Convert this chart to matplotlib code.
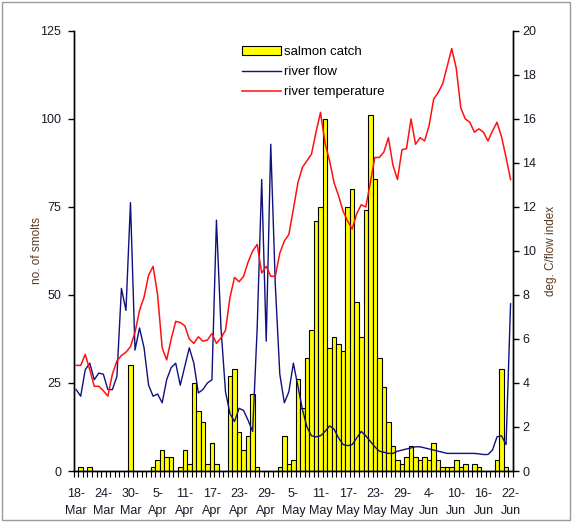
import matplotlib
matplotlib.use("Agg")
import matplotlib.pyplot as plt
import numpy as np
from matplotlib.patches import Rectangle

plt.rcParams.update({"font.family": ["Liberation Sans", "DejaVu Sans"], "font.size": 9})

# daily values, 18 Mar .. 22 Jun (97 days)
catch = [0, 1, 0, 1, 0, 0, 0, 0, 0, 0, 0, 0, 30, 0, 0, 0, 0, 1, 3, 6,
         4, 4, 0, 1, 6, 2, 25, 17, 14, 2, 8, 2, 0, 0, 27, 29, 11, 6, 10, 22,
         1, 0, 0, 0, 0, 1, 10, 2, 3, 26, 18, 32, 40, 71, 75, 100, 35, 38, 36, 34,
         75, 80, 48, 38, 74, 101, 83, 32, 24, 14, 7, 3, 2, 4, 7, 4, 3, 4, 3, 8,
         3, 1, 1, 1, 3, 1, 2, 0, 2, 1, 0, 0, 0, 3, 29, 1, 0]
flow = [3.7, 3.4, 4.6, 4.9, 4.15, 4.45, 4.4, 3.7, 3.7, 4.3, 8.3, 7.3, 12.2, 5.5, 6.5, 5.6, 3.9, 3.4, 3.5, 3.1,
        4.15, 4.7, 4.9, 3.9, 4.75, 5.6, 4.9, 3.55, 3.7, 4.0, 4.15, 11.4, 6.5, 3.6, 2.6, 2.25, 2.85, 2.75, 2.3, 1.8,
        6.5, 13.25, 5.9, 14.85, 8.5, 4.4, 3.1, 3.6, 4.9, 3.85, 2.8, 2.0, 1.6, 1.55, 1.6, 1.8, 2.05, 1.9, 1.5, 1.2,
        1.15, 1.2, 1.5, 1.8, 1.6, 1.35, 1.1, 0.9, 0.85, 0.8, 0.8, 0.9, 0.95, 1.0, 1.05, 1.1, 1.1, 1.05, 1.0, 0.95,
        0.9, 0.85, 0.8, 0.8, 0.8, 0.8, 0.8, 0.8, 0.8, 0.78, 0.75, 0.75, 0.95, 1.55, 1.6, 1.2, 7.6]
temp = [4.8, 4.8, 5.3, 4.6, 3.85, 3.85, 3.65, 3.4, 4.4, 5.0, 5.25, 5.4, 5.65, 6.3, 7.3, 7.9, 8.9, 9.3, 8.0, 5.6,
        5.05, 6.0, 6.8, 6.75, 6.6, 6.0, 5.8, 6.1, 5.9, 5.95, 6.25, 5.8, 6.05, 6.4, 7.9, 8.8, 8.6, 8.85, 9.5, 10.0,
        10.3, 9.0, 9.3, 8.85, 8.85, 9.9, 10.45, 10.75, 11.9, 13.1, 13.8, 14.1, 14.4, 15.4, 16.3, 14.9, 14.1, 13.1, 12.5, 11.8,
        11.35, 11.0, 11.7, 12.1, 12.0, 13.1, 14.25, 14.25, 14.5, 15.15, 13.9, 13.25, 14.6, 14.65, 16.0, 14.85, 15.15, 15.0, 15.7, 16.9,
        17.2, 17.6, 18.4, 19.2, 18.3, 16.5, 16.0, 15.85, 15.4, 15.55, 15.4, 15.0, 15.45, 15.85, 15.2, 14.25, 13.25]
date_labels = ["18-\nMar", "24-\nMar", "30-\nMar", "5-\nApr", "11-\nApr", "17-\nApr", "23-\nApr",
               "29-\nApr", "5-\nMay", "11-\nMay", "17-\nMay", "23-\nMay", "29-\nMay", "4-\nJun",
               "10-\nJun", "16-\nJun", "22-\nJun"]

TXT = "#1a1a2a"
LAB = "#5a3a22"

x = np.arange(len(catch))
fig = plt.figure(figsize=(5.73, 5.22), dpi=100)
ax = fig.add_axes([0.129, 0.0977, 0.766, 0.843])
ax2 = ax.twinx()

bars = ax.bar(x, catch, width=1.0, color="#ffff00", edgecolor="black", linewidth=0.8,
              label="salmon catch")
l1, = ax2.plot(x, flow, color="#10107f", lw=1.0, label="river flow")
l2, = ax2.plot(x, temp, color="#ff1010", lw=1.1, label="river temperature")

ax.set_xlim(-0.5, len(catch) - 0.5)
ax.set_ylim(0, 125)
ax2.set_ylim(0, 20)
ax.set_yticks(range(0, 126, 25))
ax2.set_yticks(range(0, 21, 2))
ax.set_xticks(range(0, len(catch), 6))
ax.set_xticklabels(date_labels, color=TXT, linespacing=1.6)
ax.set_xticks(np.arange(-0.5, len(catch), 1), minor=True)
ax.tick_params(axis="x", which="major", length=0, pad=12)
ax.tick_params(axis="x", which="minor", length=4, width=0.8, direction="out")
ax.tick_params(axis="y", length=4, width=1, pad=5, colors="black", labelcolor=TXT)
ax2.tick_params(axis="y", length=4, width=1, pad=3, colors="black", labelcolor=TXT)

for a in (ax, ax2):
    a.spines["top"].set_visible(False)
    for s in ("left", "right", "bottom"):
        a.spines[s].set_linewidth(1.0)

fig.text(0.065, 0.52, "no. of smolts", rotation=90, ha="center", va="center",
         fontsize=8.5, color=LAB)
fig.text(0.962, 0.52, "deg. C/flow index", rotation=90, ha="center", va="center",
         fontsize=8.5, color=LAB)

ax2.legend([bars, l1, l2], ["salmon catch", "river flow", "river temperature"],
           loc="upper left", bbox_to_anchor=(0.422, 0.912), bbox_transform=fig.transFigure,
           frameon=False, fontsize=9.5, handlelength=3.0, handletextpad=0.2,
           labelspacing=0.6, borderpad=0, borderaxespad=0)

fig.patches.append(Rectangle((0.003, 0.003), 0.992, 0.994, transform=fig.transFigure,
                             fill=False, edgecolor="#9a9a9a", lw=1.0))

fig.savefig("out.png", dpi=100)
